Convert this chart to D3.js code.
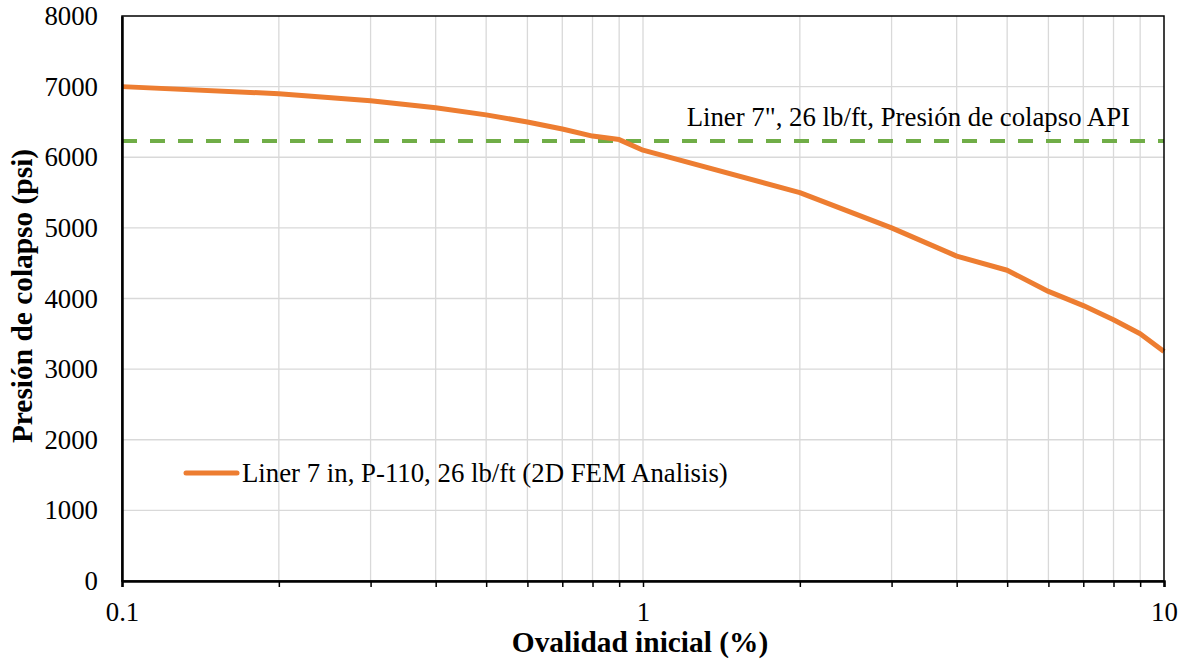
<!DOCTYPE html>
<html>
<head>
<meta charset="utf-8">
<script src="https://cdn.jsdelivr.net/npm/d3@7"></script>
<style>
  html, body { margin: 0; padding: 0; background: #fff; }
</style>
</head>
<body>
<svg id="chart" width="1186" height="659" font-family="Liberation Serif"></svg>
<script>
// Initial ovality (%) and the collapse pressure from the 2D FEM analysis (psi)
const ovality = [0.1, 0.2, 0.3, 0.4, 0.5, 0.6, 0.7, 0.8, 0.9, 1, 2, 3, 4, 5, 6, 7, 8, 9, 10];
const collapseFEM = [7000, 6900, 6800, 6700, 6600, 6500, 6400, 6300, 6250, 6100, 5500, 5000, 4600, 4400, 4100, 3900, 3700, 3500, 3250];
// API collapse rating for the 7", 26 lb/ft liner
const apiCollapse = 6230;
const xTickValues = [0.1, 1, 10];
const xMinorValues = [0.2, 0.3, 0.4, 0.5, 0.6, 0.7, 0.8, 0.9, 2, 3, 4, 5, 6, 7, 8, 9];
const yTickValues = [0, 1000, 2000, 3000, 4000, 5000, 6000, 7000, 8000];
const seriesLabel = "Liner 7 in, P-110, 26 lb/ft (2D FEM Analisis)";
const apiLabel = "Liner 7\", 26 lb/ft, Presión de colapso API";

const FONT = "Liberation Serif";
const TEXT_SIZE = 26.8;
const TITLE_SIZE = 29.4;

const svg = d3.select("#chart");
const plot = { left: 122, right: 1164, top: 16, bottom: 581 };

const x = d3.scaleLog().domain([0.1, 10]).range([plot.left, plot.right]);
const y = d3.scaleLinear().domain([0, 8000]).range([plot.bottom, plot.top]);

// grid
const grid = svg.append("g").attr("stroke", "#d9d9d9").attr("stroke-width", 1.3);
grid.selectAll("line.h").data(yTickValues.filter(v => v > 0 && v < 8000)).join("line")
  .attr("x1", plot.left).attr("x2", plot.right)
  .attr("y1", d => y(d)).attr("y2", d => y(d));
grid.selectAll("line.v").data(xMinorValues.concat([1])).join("line")
  .attr("y1", plot.top).attr("y2", plot.bottom)
  .attr("x1", d => x(d)).attr("x2", d => x(d));

// API collapse pressure reference line
svg.append("line")
  .attr("x1", plot.left).attr("x2", plot.right)
  .attr("y1", y(apiCollapse)).attr("y2", y(apiCollapse))
  .attr("stroke", "#70ad47").attr("stroke-width", 4)
  .attr("stroke-dasharray", "15,13");

svg.append("text")
  .attr("x", 1130).attr("y", 126)
  .attr("text-anchor", "end")
  .attr("font-family", FONT)
  .attr("font-size", TEXT_SIZE)
  .text(apiLabel);

// FEM collapse curve
const line = d3.line().x((d, i) => x(ovality[i])).y(d => y(d));
svg.append("path")
  .datum(collapseFEM)
  .attr("d", line)
  .attr("fill", "none")
  .attr("stroke", "#ed7d31")
  .attr("stroke-width", 5)
  .attr("stroke-linejoin", "round");

// frame
svg.append("rect")
  .attr("x", plot.left).attr("y", plot.top)
  .attr("width", plot.right - plot.left).attr("height", plot.bottom - plot.top)
  .attr("fill", "none").attr("stroke", "#000").attr("stroke-width", 1.5);

// x axis
const xAxis = d3.axisBottom(x)
  .tickValues(xTickValues.concat(xMinorValues))
  .tickSize(6)
  .tickFormat(d => xTickValues.includes(d) ? String(d) : "");
const gx = svg.append("g").attr("transform", `translate(0,${plot.bottom})`).call(xAxis)
  .attr("font-family", FONT);
gx.select(".domain").attr("stroke", "#000").attr("stroke-width", 2.5);
gx.selectAll(".tick line").attr("stroke", "#000").attr("stroke-width", 1.5);
gx.selectAll(".tick text")
  .attr("font-family", FONT)
  .attr("font-size", TEXT_SIZE).attr("fill", "#000")
  .attr("y", 40).attr("dy", 0);

// y axis
const yAxis = d3.axisLeft(y).tickValues(yTickValues).tickSize(0).tickPadding(24).tickFormat(d3.format("d"));
const gy = svg.append("g").attr("transform", `translate(${plot.left},0)`).call(yAxis)
  .attr("font-family", FONT);
gy.select(".domain").attr("stroke", "#000").attr("stroke-width", 2.5);
gy.selectAll(".tick text")
  .attr("font-family", FONT)
  .attr("font-size", TEXT_SIZE).attr("fill", "#000");

// axis titles
svg.append("text")
  .attr("x", 640).attr("y", 652)
  .attr("text-anchor", "middle")
  .attr("font-family", FONT)
  .attr("font-size", TITLE_SIZE).attr("font-weight", "bold")
  .text("Ovalidad inicial (%)");

svg.append("text")
  .attr("transform", "translate(32,296) rotate(-90)")
  .attr("text-anchor", "middle")
  .attr("font-family", FONT)
  .attr("font-size", TITLE_SIZE).attr("font-weight", "bold")
  .text("Presión de colapso (psi)");

// legend
const lg = svg.append("g").attr("transform", "translate(186,473)");
lg.append("line").attr("x1", 0).attr("x2", 51).attr("y1", 0).attr("y2", 0)
  .attr("stroke", "#ed7d31").attr("stroke-width", 5).attr("stroke-linecap", "round");
lg.append("text").attr("x", 56).attr("y", 9)
  .attr("font-family", FONT).attr("font-size", TEXT_SIZE).text(seriesLabel);
</script>
</body>
</html>
